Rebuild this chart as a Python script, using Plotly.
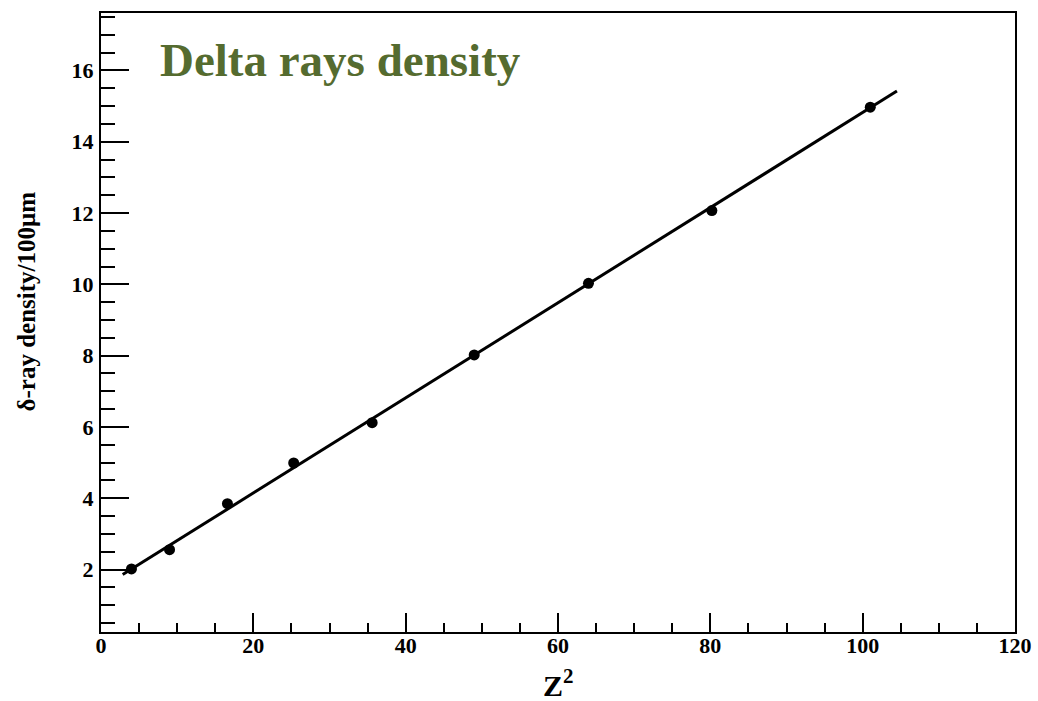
import plotly.graph_objects as go

# Data
z2_values = [4, 9, 16.6, 25.3, 35.6, 49, 64, 80.2, 101]
delta_density = [2.02, 2.56, 3.85, 4.99, 6.12, 8.02, 10.03, 12.07, 14.97]

fit_x = [2.85, 104.5]
fit_y = [1.86, 15.42]

x_tick_vals = [0, 20, 40, 60, 80, 100, 120]
y_tick_vals = [2, 4, 6, 8, 10, 12, 14, 16]

FONT = "Liberation Serif, Times New Roman, serif"

fig = go.Figure()
fig.add_trace(go.Scatter(
    x=fit_x, y=fit_y, mode="lines",
    line=dict(color="black", width=3), showlegend=False, hoverinfo="skip"))
fig.add_trace(go.Scatter(
    x=z2_values, y=delta_density, mode="markers",
    marker=dict(color="black", size=11), showlegend=False))

fig.update_layout(
    width=1038, height=701,
    margin=dict(l=101, r=23, t=13, b=69),
    paper_bgcolor="white", plot_bgcolor="white",
    font=dict(family=FONT, color="black"),
)

fig.update_xaxes(
    range=[0, 120], tickvals=x_tick_vals, ticktext=[str(v) for v in x_tick_vals],
    ticks="inside", ticklen=19, tickwidth=1.5, tickcolor="black",
    minor=dict(ticks="inside", ticklen=9, dtick=5, tick0=0, tickwidth=1.5, tickcolor="black"),
    showline=True, linecolor="black", linewidth=2, mirror=True,
    showgrid=False, zeroline=False, automargin=False,
    tickfont=dict(family=FONT, size=22, color="black", weight="bold"),
    ticklabelstandoff=-7,
)
fig.update_yaxes(
    range=[0.25, 17.61], tickvals=y_tick_vals, ticktext=[str(v) for v in y_tick_vals],
    ticks="inside", ticklen=28, tickwidth=1.5, tickcolor="black",
    minor=dict(ticks="inside", ticklen=14, dtick=0.5, tick0=0, tickwidth=1.5, tickcolor="black"),
    showline=True, linecolor="black", linewidth=2, mirror=True,
    showgrid=False, zeroline=False, automargin=False,
    tickfont=dict(family=FONT, size=22, color="black", weight="bold"),
    ticklabelstandoff=1,
)

fig.add_annotation(
    text="Delta rays density", xref="paper", yref="paper",
    x=(158 - 101) / 914, y=(632 - 60) / 619, xanchor="left", yanchor="middle",
    showarrow=False, font=dict(family=FONT, size=47, color="#556B2F", weight="bold"))

fig.add_annotation(
    text="δ-ray density/100μm", xref="paper", yref="paper",
    x=(26 - 101) / 914, y=(632 - 301.5) / 619, xanchor="center", yanchor="middle",
    textangle=-90, showarrow=False,
    font=dict(family=FONT, size=25, color="black", weight="bold"))

fig.add_annotation(
    text="Z<sup>2</sup>", xref="paper", yref="paper",
    x=(558 - 101) / 914, y=(632 - 683) / 619, xanchor="center", yanchor="middle",
    showarrow=False, font=dict(family=FONT, size=30, color="black", weight="bold"))

fig.write_html("out.html")
